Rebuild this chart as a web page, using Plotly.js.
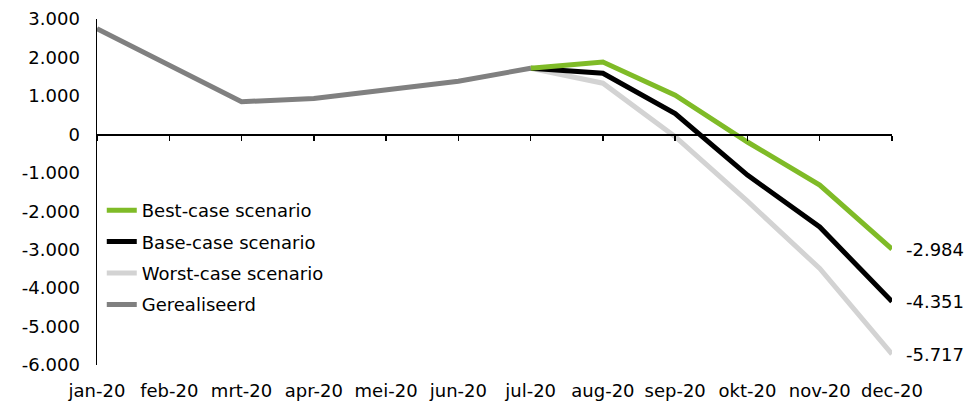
<!DOCTYPE html>
<html>
<head>
<meta charset="utf-8">
<script src="https://cdn.plot.ly/plotly-3.0.1.min.js"></script>
<style>
  html, body { margin: 0; padding: 0; background: #fff; }
  #chart { width: 980px; height: 401px; }
</style>
</head>
<body>
<div id="chart"></div>
<script>
// ---- Data ----
const months = ['jan-20','feb-20','mrt-20','apr-20','mei-20','jun-20','jul-20','aug-20','sep-20','okt-20','nov-20','dec-20'];
const realised  = [2750, 1800, 850, 930, 1170, 1380, 1720, null, null, null, null, null];
const bestCase  = [null, null, null, null, null, null, 1720, 1880, 1020, -200, -1320, -2984];
const baseCase  = [null, null, null, null, null, null, 1720, 1590, 540, -1060, -2410, -4351];
const worstCase = [null, null, null, null, null, null, 1720, 1330, -60, -1740, -3490, -5717];
const seriesNames = ['Best-case scenario', 'Base-case scenario', 'Worst-case scenario', 'Gerealiseerd'];
const yTickVals = [3000, 2000, 1000, 0, -1000, -2000, -3000, -4000, -5000, -6000];
const yTickText = ['3.000', '2.000', '1.000', '0', '-1.000', '-2.000', '-3.000', '-4.000', '-5.000', '-6.000'];

// ---- Helpers ----
function fmtNL(v) {
  const s = Math.abs(Math.round(v)).toString().replace(/\B(?=(\d{3})+(?!\d))/g, '.');
  return (v < 0 ? '-' : '') + s;
}

const FONT = 'DejaVu Sans, Verdana, sans-serif';
const FS = 18;
const yMin = -6000, yMax = 3000;

const colors = { best: '#7fbb27', base: '#000000', worst: '#d3d3d3', real: '#808080' };
const LW = 5;

function lineTrace(y, name, color, rank, group) {
  return {
    x: months, y: y, type: 'scatter', mode: 'lines', name: name,
    line: { color: color, width: LW }, legendrank: rank, legendgroup: group,
    connectgaps: false, hoverinfo: 'skip', cliponaxis: false
  };
}

const traces = [
  lineTrace(worstCase, seriesNames[2], colors.worst, 3, 'g3'),
  lineTrace(baseCase,  seriesNames[1], colors.base,  2, 'g2'),
  lineTrace(bestCase,  seriesNames[0], colors.best,  1, 'g1'),
  lineTrace(realised,  seriesNames[3], colors.real,  4, 'g4'),
  { x: months, y: months.map(() => null), xaxis: 'x2', type: 'scatter', mode: 'lines',
    showlegend: false, hoverinfo: 'skip' }
];

const last = months.length - 1;
const endSeries = [bestCase, baseCase, worstCase];
const annotations = endSeries.map(s => ({
  x: months[last], y: s[last], xref: 'x', yref: 'y',
  text: fmtNL(s[last]), showarrow: false, xanchor: 'left', yanchor: 'middle',
  xshift: 12, font: { family: FONT, size: FS, color: '#000' }
}));

const layout = {
  width: 980, height: 401,
  margin: { l: 97, r: 88, t: 19, b: 36 },
  paper_bgcolor: '#fff', plot_bgcolor: '#fff',
  font: { family: FONT, size: FS, color: '#000' },
  showlegend: true,
  legend: {
    x: 0.006, xanchor: 'left', y: 0.5, yanchor: 'top',
    bgcolor: 'rgba(0,0,0,0)', font: { family: FONT, size: FS, color: '#000' },
    traceorder: 'grouped', tracegroupgap: 5, itemclick: false
  },
  xaxis: {
    type: 'category', categoryarray: months, categoryorder: 'array',
    range: [0, last], anchor: 'free', position: (0 - yMin) / (yMax - yMin),
    showline: true, linecolor: '#000', linewidth: 1.5,
    ticks: 'outside', ticklen: 5, tickwidth: 1.5, tickcolor: '#000',
    showticklabels: false, showgrid: false, zeroline: false, fixedrange: true
  },
  xaxis2: {
    type: 'category', categoryarray: months, categoryorder: 'array',
    overlaying: 'x', matches: 'x', anchor: 'y', side: 'bottom',
    showline: false, ticks: '', showgrid: false, zeroline: false,
    showticklabels: true, ticklabelstandoff: 13,
    tickfont: { family: FONT, size: FS, color: '#000' }
  },
  yaxis: {
    range: [yMin, yMax], tickvals: yTickVals, ticktext: yTickText,
    showline: true, linecolor: '#000', linewidth: 1.5, ticks: '',
    showgrid: false, zeroline: false, ticklabelstandoff: 12,
    tickfont: { family: FONT, size: FS, color: '#000' }, fixedrange: true
  },
  annotations: annotations
};

Plotly.newPlot('chart', traces, layout, { staticPlot: true, displayModeBar: false });
</script>
</body>
</html>
